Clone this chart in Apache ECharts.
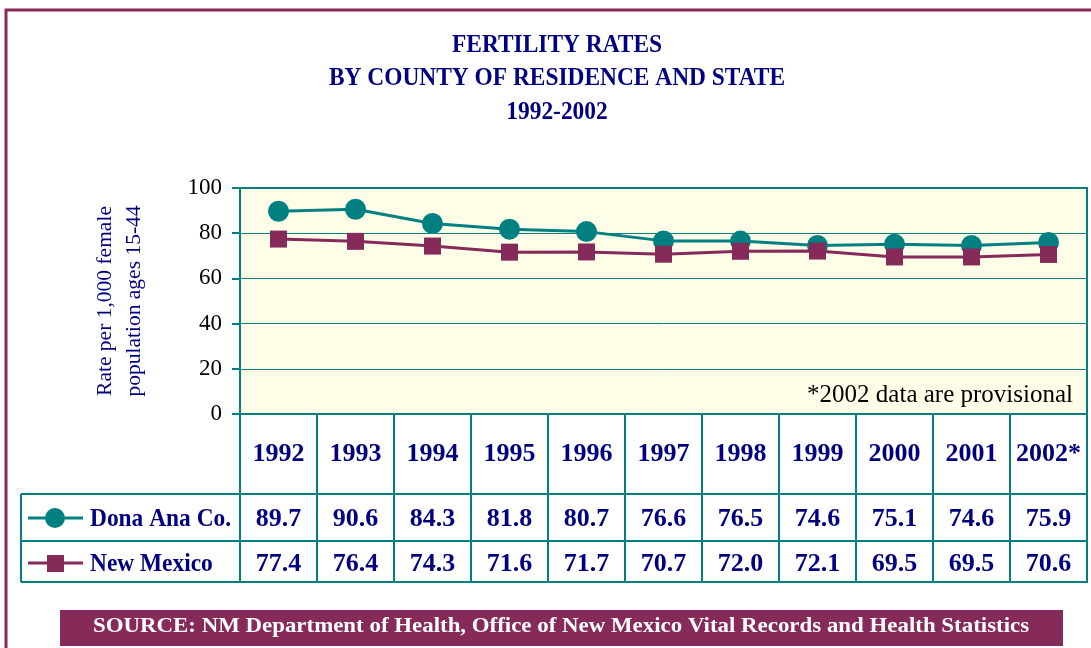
<!DOCTYPE html>
<html>
<head>
<meta charset="utf-8">
<script src="https://cdn.jsdelivr.net/npm/echarts@6/dist/echarts.min.js"></script>
<style>html,body{margin:0;padding:0;background:#fff}#c{width:1091px;height:648px}</style>
</head>
<body>
<div id="c"></div>
<script>
const years = ['1992','1993','1994','1995','1996','1997','1998','1999','2000','2001','2002*'];
const donaAna = [89.7, 90.6, 84.3, 81.8, 80.7, 76.6, 76.5, 74.6, 75.1, 74.6, 75.9];
const newMexico = [77.4, 76.4, 74.3, 71.6, 71.7, 70.7, 72.0, 72.1, 69.5, 69.5, 70.6];
const yTicks = [0, 20, 40, 60, 80, 100];
const titleLines = ['FERTILITY RATES', 'BY COUNTY OF RESIDENCE AND STATE', '1992-2002'];
const seriesNames = ['Dona Ana Co.', 'New Mexico'];

const TEAL = '#008080', MAROON = '#862A5A', NAVY = '#000080';
const SERIF = '"Liberation Serif","DejaVu Serif",serif';
const G = {left: 240, top: 188, width: 847, height: 226};
const tableBottom = 582, row1 = 494, row2 = 541, legLeft = 21;

const chart = echarts.init(document.getElementById('c'), null, {renderer: 'canvas'});
const line = (x1, y1, x2, y2, color, w) => ({type: 'line', shape: {x1, y1, x2, y2}, style: {stroke: color || TEAL, lineWidth: w || 2}, z: 10});
const titleText = (t, y) => ({type: 'text', x: 557, y, scaleX: 0.9,
  style: {text: t, font: `bold 26px ${SERIF}`, fill: NAVY, textAlign: 'center', textVerticalAlign: 'middle'}});
const legText = (t, y) => ({type: 'text', x: 90, y, scaleX: 0.9, z: 10,
  style: {text: t, font: `bold 26px ${SERIF}`, fill: NAVY, textAlign: 'left', textVerticalAlign: 'middle'}});
const cellFont = {fontFamily: SERIF, fontWeight: 'bold', fontSize: 26, color: NAVY};

chart.setOption({
  backgroundColor: '#fff',
  animation: false,
  grid: [
    {left: G.left, top: G.top, width: G.width, height: G.height, show: true, backgroundColor: '#FEFDE8', borderColor: TEAL, borderWidth: 2},
    {left: G.left, top: G.top + G.height, width: G.width, height: tableBottom - G.top - G.height, show: true, backgroundColor: 'transparent', borderColor: TEAL, borderWidth: 2}
  ],
  xAxis: [
    {
      type: 'category', data: years, gridIndex: 0, boundaryGap: true,
      axisLine: {lineStyle: {color: TEAL, width: 2}}, axisTick: {show: false},
      axisLabel: {
        interval: 0, margin: 0,
        formatter: (v, i) => `{y|${v}}\n{a|${donaAna[i].toFixed(1)}}\n{b|${newMexico[i].toFixed(1)}}`,
        rich: {
          y: Object.assign({lineHeight: 80}, cellFont),
          a: Object.assign({lineHeight: 50}, cellFont),
          b: Object.assign({lineHeight: 40}, cellFont)
        }
      }
    },
    {
      type: 'category', data: years, gridIndex: 1, boundaryGap: true,
      axisLine: {show: false}, axisTick: {show: false}, axisLabel: {show: false},
      splitLine: {show: true, interval: 0, lineStyle: {color: TEAL, width: 2}}
    }
  ],
  yAxis: [
    {
      type: 'value', gridIndex: 0, min: yTicks[0], max: yTicks[yTicks.length - 1], interval: 20,
      axisLine: {show: true, lineStyle: {color: TEAL, width: 2}},
      axisTick: {show: true, length: 8, lineStyle: {color: TEAL, width: 2}},
      axisLabel: {fontFamily: SERIF, fontSize: 23, color: '#000', margin: 18},
      splitLine: {lineStyle: {color: TEAL, width: 1}}
    },
    {type: 'value', gridIndex: 1, min: 0, max: 1, show: false}
  ],
  series: [
    {name: seriesNames[0], type: 'line', data: donaAna, xAxisIndex: 0, yAxisIndex: 0,
     symbol: 'circle', symbolSize: 21, lineStyle: {color: TEAL, width: 3}, itemStyle: {color: TEAL}, z: 2},
    {name: seriesNames[1], type: 'line', data: newMexico, xAxisIndex: 0, yAxisIndex: 0,
     symbol: 'rect', symbolSize: 17, lineStyle: {color: MAROON, width: 3}, itemStyle: {color: MAROON}, z: 3}
  ],
  graphic: [
    {type: 'rect', shape: {x: 6, y: 10, width: 1200, height: 800}, style: {fill: 'none', stroke: MAROON, lineWidth: 3}, silent: true},
    titleText(titleLines[0], 45),
    titleText(titleLines[1], 78),
    titleText(titleLines[2], 112),
    {type: 'text', x: 120, y: 301, rotation: Math.PI / 2,
     style: {text: 'Rate per 1,000 female\npopulation ages 15-44', font: `21.5px ${SERIF}`, fill: NAVY, textAlign: 'center', textVerticalAlign: 'middle', lineHeight: 29}},
    {type: 'text', x: 1073, y: 395, style: {text: '*2002 data are provisional', font: `25px ${SERIF}`, fill: '#000', textAlign: 'right', textVerticalAlign: 'middle'}, z: 10},
    line(legLeft, row1, G.left + G.width, row1),
    line(legLeft, row2, G.left + G.width, row2),
    line(legLeft, tableBottom, G.left, tableBottom),
    line(legLeft, row1, legLeft, tableBottom),
    line(28, 518, 83, 518, TEAL, 3),
    {type: 'circle', shape: {cx: 55, cy: 518, r: 10}, style: {fill: TEAL}, z: 11},
    legText(seriesNames[0], 519),
    line(28, 563, 83, 563, MAROON, 3),
    {type: 'rect', shape: {x: 47, y: 555, width: 17, height: 17}, style: {fill: MAROON}, z: 11},
    legText(seriesNames[1], 564),
    {type: 'rect', shape: {x: 60, y: 610, width: 1003, height: 36}, style: {fill: MAROON}},
    {type: 'text', x: 561, y: 627, scaleX: 1.09,
     style: {text: 'SOURCE: NM Department of Health, Office of New Mexico Vital Records and Health Statistics', font: `bold 21px ${SERIF}`, fill: '#fff', textAlign: 'center', textVerticalAlign: 'middle'}}
  ]
});
</script>
</body>
</html>
